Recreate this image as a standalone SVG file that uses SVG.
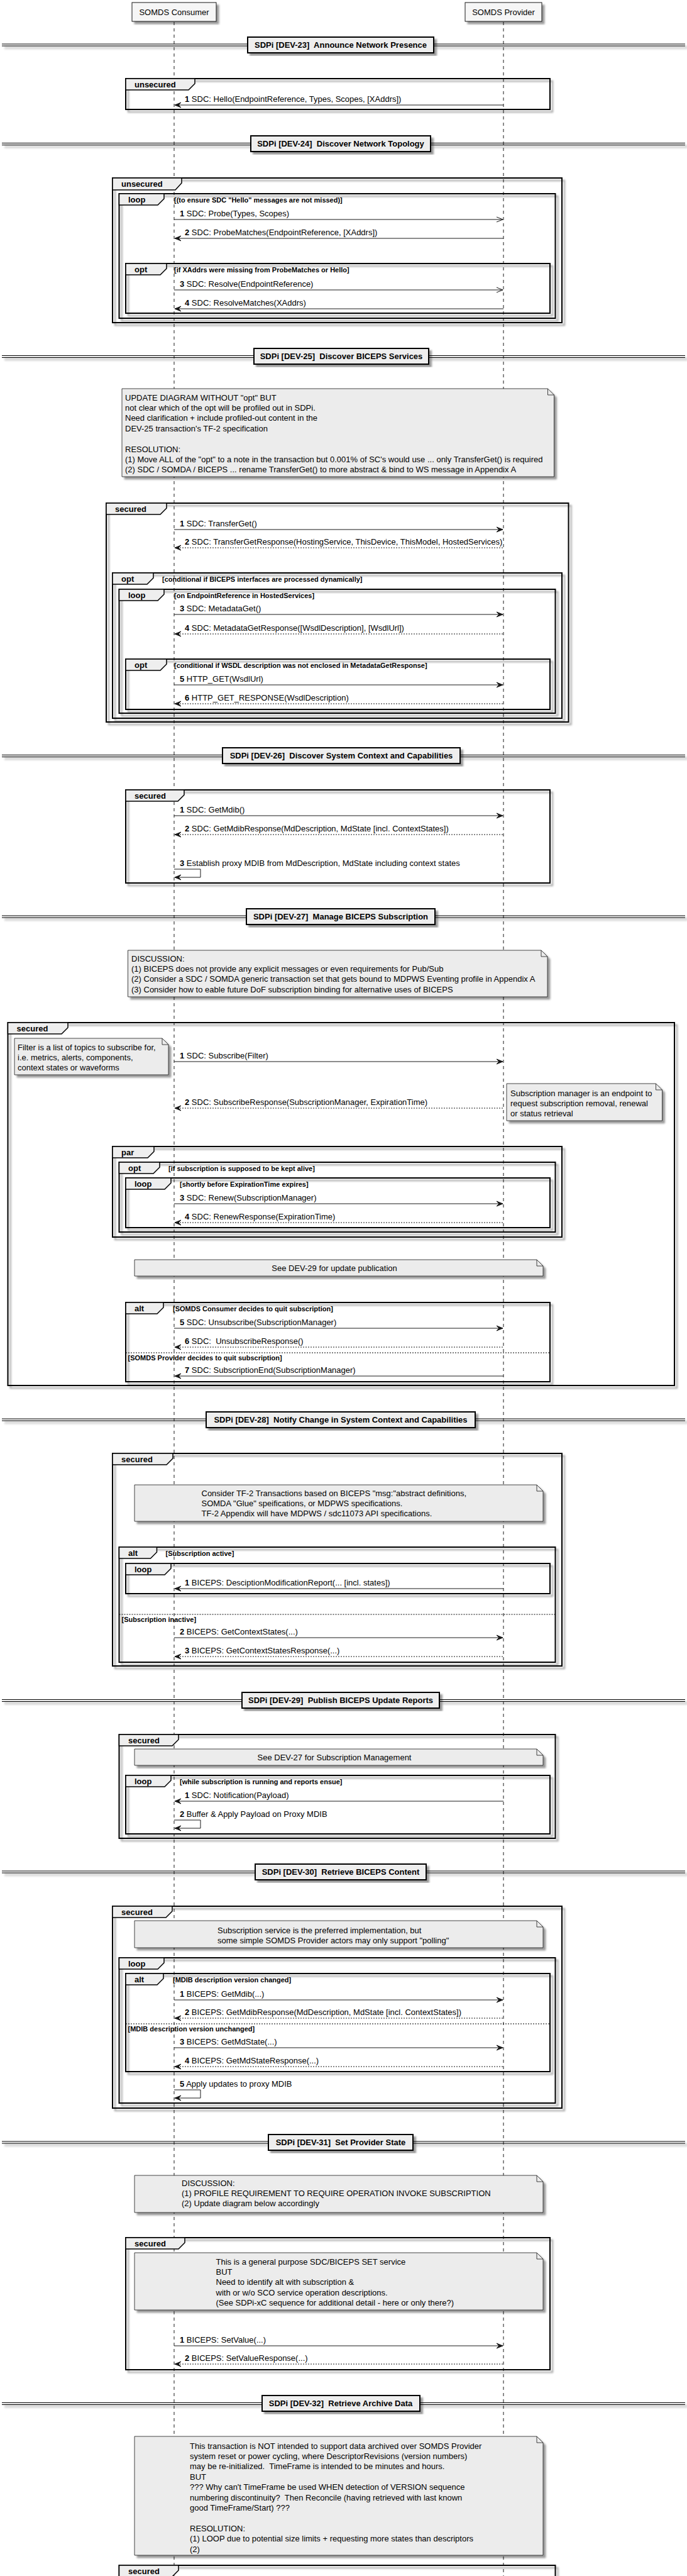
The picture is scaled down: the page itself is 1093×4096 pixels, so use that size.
<svg xmlns="http://www.w3.org/2000/svg" width="1093" height="4096" viewBox="0 0 1093 4096">
<defs>
<filter id="sh" x="-0.1" y="-0.1" width="1.3" height="1.3">
<feGaussianBlur in="SourceAlpha" stdDeviation="1.8" result="b"/>
<feColorMatrix in="b" type="matrix" values="0 0 0 0 0  0 0 0 0 0  0 0 0 0 0  0 0 0 .4 0" result="b2"/>
<feOffset dx="4" dy="4" in="b2" result="b3"/>
<feBlend in="SourceGraphic" in2="b3" mode="normal"/>
</filter>
<style>
text{font-family:"Liberation Sans",Arial,sans-serif;font-size:13px;fill:#000;white-space:pre}
.b{font-weight:bold}
.g{font-size:11px;font-weight:bold}
.c{text-anchor:middle}
.life{stroke:#181818;stroke-width:1;stroke-dasharray:5,5}
.part{fill:#F6F6F6;stroke:#181818;stroke-width:1}
.fr{fill:none;stroke:#000;stroke-width:2}
.tab{fill:#EEEEEE;stroke:#000;stroke-width:1.5}
.note{fill:#ECECEC;stroke:#181818;stroke-width:0.8}
.fold{fill:none;stroke:#181818;stroke-width:0.8}
.dv{fill:#EEEEEE;stroke:#000;stroke-width:2}
.dl{stroke:#000;stroke-width:1}
.m{stroke:#181818;stroke-width:1;fill:none}
.d{stroke-dasharray:2,2}
.ah{fill:#181818;stroke:#181818;stroke-width:1}
.sep{stroke:#000;stroke-width:1;stroke-dasharray:2,2}
</style>
</defs>
<rect width="1093" height="4096" fill="#fff"/>

<!-- lifelines -->
<g id="lifelines">
<line x1="277" y1="35" x2="277" y2="4096" class="life"/>
<line x1="801" y1="35" x2="801" y2="4096" class="life"/>
</g>

<!-- participants -->
<g id="consumer"><rect x="210" y="4" width="134" height="30" class="part" filter="url(#sh)"/><text x="277" y="24" class="c">SOMDS Consumer</text></g>
<g id="provider"><rect x="740" y="4" width="122" height="30" class="part" filter="url(#sh)"/><text x="801" y="24" class="c">SOMDS Provider</text></g>

<!-- dividers -->
<g id="dividers">
<g id="div23"><g filter="url(#sh)"><line x1="3" y1="70" x2="1090" y2="70" class="dl"/><line x1="3" y1="73" x2="1090" y2="73" class="dl"/><rect x="394" y="59" width="296" height="25" class="dv"/></g><text x="542" y="76" class="c b">SDPi [DEV-23]  Announce Network Presence</text></g>
<g id="div24"><g filter="url(#sh)"><line x1="3" y1="227.5" x2="1090" y2="227.5" class="dl"/><line x1="3" y1="230.5" x2="1090" y2="230.5" class="dl"/><rect x="399" y="216" width="286" height="25" class="dv"/></g><text x="542" y="233" class="c b">SDPi [DEV-24]  Discover Network Topology</text></g>
<g id="div25"><g filter="url(#sh)"><line x1="3" y1="565.5" x2="1090" y2="565.5" class="dl"/><line x1="3" y1="568.5" x2="1090" y2="568.5" class="dl"/><rect x="404" y="554" width="278" height="25" class="dv"/></g><text x="543" y="571" class="c b">SDPi [DEV-25]  Discover BICEPS Services</text></g>
<g id="div26"><g filter="url(#sh)"><line x1="3" y1="1200.5" x2="1090" y2="1200.5" class="dl"/><line x1="3" y1="1203.5" x2="1090" y2="1203.5" class="dl"/><rect x="354" y="1189" width="378" height="25" class="dv"/></g><text x="543" y="1206" class="c b">SDPi [DEV-26]  Discover System Context and Capabilities</text></g>
<g id="div27"><g filter="url(#sh)"><line x1="3" y1="1456" x2="1090" y2="1456" class="dl"/><line x1="3" y1="1459" x2="1090" y2="1459" class="dl"/><rect x="392" y="1445" width="300" height="25" class="dv"/></g><text x="542" y="1462" class="c b">SDPi [DEV-27]  Manage BICEPS Subscription</text></g>
<g id="div28"><g filter="url(#sh)"><line x1="3" y1="2256" x2="1090" y2="2256" class="dl"/><line x1="3" y1="2259" x2="1090" y2="2259" class="dl"/><rect x="328" y="2245" width="428" height="25" class="dv"/></g><text x="542" y="2262" class="c b">SDPi [DEV-28]  Notify Change in System Context and Capabilities</text></g>
<g id="div29"><g filter="url(#sh)"><line x1="3" y1="2702.5" x2="1090" y2="2702.5" class="dl"/><line x1="3" y1="2705.5" x2="1090" y2="2705.5" class="dl"/><rect x="385" y="2691" width="314" height="25" class="dv"/></g><text x="542" y="2708" class="c b">SDPi [DEV-29]  Publish BICEPS Update Reports</text></g>
<g id="div30"><g filter="url(#sh)"><line x1="3" y1="2975" x2="1090" y2="2975" class="dl"/><line x1="3" y1="2978" x2="1090" y2="2978" class="dl"/><rect x="406" y="2964" width="272" height="25" class="dv"/></g><text x="542" y="2981" class="c b">SDPi [DEV-30]  Retrieve BICEPS Content</text></g>
<g id="div31"><g filter="url(#sh)"><line x1="3" y1="3405" x2="1090" y2="3405" class="dl"/><line x1="3" y1="3408" x2="1090" y2="3408" class="dl"/><rect x="427" y="3394" width="230" height="25" class="dv"/></g><text x="542" y="3411" class="c b">SDPi [DEV-31]  Set Provider State</text></g>
<g id="div32"><g filter="url(#sh)"><line x1="3" y1="3820.5" x2="1090" y2="3820.5" class="dl"/><line x1="3" y1="3823.5" x2="1090" y2="3823.5" class="dl"/><rect x="417" y="3809" width="251" height="25" class="dv"/></g><text x="542" y="3826" class="c b">SDPi [DEV-32]  Retrieve Archive Data</text></g>
</g>

<!-- frames -->
<g id="frames">
<g id="f23-unsecured"><rect x="200" y="125" width="675" height="49" class="fr" filter="url(#sh)"/><path d="M200,125 H310 V133 L300,143 H200 Z" class="tab"/><text x="214" y="139" class="b">unsecured</text></g>

<g id="f24-unsecured"><rect x="179" y="283" width="715" height="230" class="fr" filter="url(#sh)"/><path d="M179,283 H289 V291 L279,302 H179 Z" class="tab"/><text x="193" y="297" class="b">unsecured</text></g>
<g id="f24-loop"><rect x="189.5" y="308" width="694" height="198" class="fr" filter="url(#sh)"/><path d="M189.5,308 H261 V316 L251,326 H189.5 Z" class="tab"/><text x="204" y="322" class="b">loop</text><text x="277" y="322" class="g">[(to ensure SDC "Hello" messages are not missed)]</text></g>
<g id="f24-opt"><rect x="200" y="419" width="675" height="79" class="fr" filter="url(#sh)"/><path d="M200,419 H265 V427 L255,437 H200 Z" class="tab"/><text x="214" y="433" class="b">opt</text><text x="277" y="433" class="g">[if XAddrs were missing from ProbeMatches or Hello]</text></g>

<g id="f25-secured"><rect x="169" y="800" width="735.5" height="348" class="fr" filter="url(#sh)"/><path d="M169,800 H265 V808 L255,818 H169 Z" class="tab"/><text x="183" y="814" class="b">secured</text></g>
<g id="f25-opt"><rect x="179" y="911" width="715" height="231" class="fr" filter="url(#sh)"/><path d="M179,911 H244 V919 L234,929 H179 Z" class="tab"/><text x="193" y="925" class="b">opt</text><text x="258" y="925" class="g">[conditional if BICEPS interfaces are processed dynamically]</text></g>
<g id="f25-loop"><rect x="189.5" y="937" width="694" height="197" class="fr" filter="url(#sh)"/><path d="M189.5,937 H261 V945 L251,955 H189.5 Z" class="tab"/><text x="204" y="951" class="b">loop</text><text x="277" y="951" class="g">[on EndpointReference in HostedServices]</text></g>
<g id="f25-opt2"><rect x="200" y="1048" width="675" height="80" class="fr" filter="url(#sh)"/><path d="M200,1048 H265 V1056 L255,1066 H200 Z" class="tab"/><text x="214" y="1062" class="b">opt</text><text x="277" y="1062" class="g">[conditional if WSDL description was not enclosed in MetadataGetResponse]</text></g>

<g id="f26-secured"><rect x="200" y="1256" width="675" height="148" class="fr" filter="url(#sh)"/><path d="M200,1256 H293 V1264 L283,1274 H200 Z" class="tab"/><text x="214" y="1270" class="b">secured</text></g>

<g id="f27-secured"><rect x="12.5" y="1626" width="1060.5" height="577" class="fr" filter="url(#sh)"/><path d="M12.5,1626 H108 V1634 L98,1644 H12.5 Z" class="tab"/><text x="26.5" y="1640" class="b">secured</text></g>
<g id="f27-par"><rect x="179" y="1823" width="715" height="144" class="fr" filter="url(#sh)"/><path d="M179,1823 H245 V1831 L235,1841 H179 Z" class="tab"/><text x="193" y="1837" class="b">par</text></g>
<g id="f27-opt"><rect x="189.5" y="1848" width="694" height="111" class="fr" filter="url(#sh)"/><path d="M189.5,1848 H254 V1856 L244,1866 H189.5 Z" class="tab"/><text x="204" y="1862" class="b">opt</text><text x="268" y="1862" class="g">[if subscription is supposed to be kept alive]</text></g>
<g id="f27-loop"><rect x="200" y="1873" width="675" height="79" class="fr" filter="url(#sh)"/><path d="M200,1873 H272 V1881 L262,1891 H200 Z" class="tab"/><text x="214" y="1887" class="b">loop</text><text x="286" y="1887" class="g">[shortly before ExpirationTime expires]</text></g>
<g id="f27-alt"><rect x="200" y="2071" width="675" height="126" class="fr" filter="url(#sh)"/><path d="M200,2071 H260 V2079 L250,2089 H200 Z" class="tab"/><text x="214" y="2085" class="b">alt</text><text x="275" y="2085" class="g">[SOMDS Consumer decides to quit subscription]</text><line x1="200" y1="2151" x2="875" y2="2151" class="sep"/><text x="203.5" y="2163" class="g">[SOMDS Provider decides to quit subscription]</text></g>

<g id="f28-secured"><rect x="179" y="2311" width="715" height="338" class="fr" filter="url(#sh)"/><path d="M179,2311 H275 V2319 L265,2329 H179 Z" class="tab"/><text x="193" y="2325" class="b">secured</text></g>
<g id="f28-alt"><rect x="189.5" y="2460" width="694" height="183" class="fr" filter="url(#sh)"/><path d="M189.5,2460 H249.5 V2468 L239.5,2478 H189.5 Z" class="tab"/><text x="204" y="2474" class="b">alt</text><text x="263.5" y="2474" class="g">[Subscription active]</text><line x1="189.5" y1="2567" x2="883.5" y2="2567" class="sep"/><text x="193.5" y="2579" class="g">[Subscription inactive]</text></g>
<g id="f28-loop"><rect x="200" y="2486" width="675" height="48" class="fr" filter="url(#sh)"/><path d="M200,2486 H272 V2494 L262,2504 H200 Z" class="tab"/><text x="214" y="2500" class="b">loop</text></g>

<g id="f29-secured"><rect x="189.5" y="2758" width="694" height="165" class="fr" filter="url(#sh)"/><path d="M189.5,2758 H284 V2766 L274,2776 H189.5 Z" class="tab"/><text x="204" y="2772" class="b">secured</text></g>
<g id="f29-loop"><rect x="200" y="2823" width="675" height="93" class="fr" filter="url(#sh)"/><path d="M200,2823 H272 V2831 L262,2841 H200 Z" class="tab"/><text x="214" y="2837" class="b">loop</text><text x="286" y="2837" class="g">[while subscription is running and reports ensue]</text></g>

<g id="f30-secured"><rect x="179" y="3031" width="715" height="321" class="fr" filter="url(#sh)"/><path d="M179,3031 H274 V3039 L264,3049 H179 Z" class="tab"/><text x="193" y="3045" class="b">secured</text></g>
<g id="f30-loop"><rect x="189.5" y="3113" width="694" height="231" class="fr" filter="url(#sh)"/><path d="M189.5,3113 H261 V3121 L251,3131 H189.5 Z" class="tab"/><text x="204" y="3127" class="b">loop</text></g>
<g id="f30-alt"><rect x="200" y="3138" width="675" height="156" class="fr" filter="url(#sh)"/><path d="M200,3138 H260 V3146 L250,3156 H200 Z" class="tab"/><text x="214" y="3152" class="b">alt</text><text x="275" y="3152" class="g">[MDIB description version changed]</text><line x1="200" y1="3218" x2="875" y2="3218" class="sep"/><text x="203.5" y="3230" class="g">[MDIB description version unchanged]</text></g>

<g id="f31-secured"><rect x="200" y="3558" width="675" height="210" class="fr" filter="url(#sh)"/><path d="M200,3558 H294 V3566 L284,3576 H200 Z" class="tab"/><text x="214" y="3572" class="b">secured</text></g>

<g id="f32-secured"><rect x="189.5" y="4079" width="694" height="60" class="fr" filter="url(#sh)"/><path d="M189.5,4079 H284 V4087 L274,4097 H189.5 Z" class="tab"/><text x="204" y="4093" class="b">secured</text></g>
</g>

<!-- notes -->
<g id="notes">
<g id="n25"><path d="M194,618 H871.5 L881.5,628 V758 H194 Z" class="note" filter="url(#sh)"/><path d="M871.5,618 V628 H881.5" class="fold"/>
<text x="199" y="636.5">UPDATE DIAGRAM WITHOUT "opt" BUT</text>
<text x="199" y="652.9">not clear which of the opt will be profiled out in SDPi.</text>
<text x="199" y="669.3">Need clarification + include profiled-out content in the</text>
<text x="199" y="685.7">DEV-25 transaction's TF-2 specification</text>
<text x="199" y="718.5">RESOLUTION:</text>
<text x="199" y="734.9">(1) Move ALL of the "opt" to a note in the transaction but 0.001% of SC's would use ... only TransferGet() is required</text>
<text x="199" y="751.3">(2) SDC / SOMDA / BICEPS ... rename TransferGet() to more abstract &amp; bind to WS message in Appendix A</text>
</g>
<g id="n27"><path d="M203.5,1511 H861 L871,1521 V1585 H203.5 Z" class="note" filter="url(#sh)"/><path d="M861,1511 V1521 H871" class="fold"/>
<text x="209" y="1528.5">DISCUSSION:</text>
<text x="209" y="1544.9">(1) BICEPS does not provide any explicit messages or even requirements for Pub/Sub</text>
<text x="209" y="1561.3">(2) Consider a SDC / SOMDA generic transaction set that gets bound to MDPWS Eventing profile in Appendix A</text>
<text x="209" y="1577.7">(3) Consider how to eable future DoF subscription binding for alternative uses of BICEPS</text>
</g>
<g id="n27-filter"><path d="M23,1651 H258 L268,1661 V1709 H23 Z" class="note" filter="url(#sh)"/><path d="M258,1651 V1661 H268" class="fold"/>
<text x="28" y="1669.5">Filter is a list of topics to subscribe for,</text>
<text x="28" y="1685.9">i.e. metrics, alerts, components,</text>
<text x="28" y="1702.3">context states or waveforms</text>
</g>
<g id="n27-manager"><path d="M806,1723 H1043.5 L1053.5,1733 V1782 H806 Z" class="note" filter="url(#sh)"/><path d="M1043.5,1723 V1733 H1053.5" class="fold"/>
<text x="812" y="1742.5">Subscription manager is an endpoint to</text>
<text x="812" y="1758.9">request subscription removal, renewal</text>
<text x="812" y="1775.3">or status retrieval</text>
</g>
<g id="n27-dev29"><path d="M214,2003 H854 L864,2013 V2029 H214 Z" class="note" filter="url(#sh)"/><path d="M854,2003 V2013 H864" class="fold"/>
<text x="532" y="2021" class="c">See DEV-29 for update publication</text>
</g>
<g id="n28"><path d="M214,2361 H854 L864,2371 V2419 H214 Z" class="note" filter="url(#sh)"/><path d="M854,2361 V2371 H864" class="fold"/>
<text x="320.5" y="2378.5">Consider TF-2 Transactions based on BICEPS "msg:"abstract definitions,</text>
<text x="320.5" y="2394.9">SOMDA "Glue" speifications, or MDPWS specifications.</text>
<text x="320.5" y="2411.3">TF-2 Appendix will have MDPWS / sdc11073 API specifications.</text>
</g>
<g id="n29"><path d="M214,2781 H854 L864,2791 V2807 H214 Z" class="note" filter="url(#sh)"/><path d="M854,2781 V2791 H864" class="fold"/>
<text x="532" y="2799" class="c">See DEV-27 for Subscription Management</text>
</g>
<g id="n30"><path d="M214,3054 H854 L864,3064 V3097 H214 Z" class="note" filter="url(#sh)"/><path d="M854,3054 V3064 H864" class="fold"/>
<text x="346" y="3073.5">Subscription service is the preferred implementation, but</text>
<text x="346" y="3089.9">some simple SOMDS Provider actors may only support "polling"</text>
</g>
<g id="n31"><path d="M214,3459 H854 L864,3469 V3518 H214 Z" class="note" filter="url(#sh)"/><path d="M854,3459 V3469 H864" class="fold"/>
<text x="289" y="3475.5">DISCUSSION:</text>
<text x="289" y="3491.9">(1) PROFILE REQUIREMENT TO REQUIRE OPERATION INVOKE SUBSCRIPTION</text>
<text x="289" y="3508.3">(2) Update diagram below accordingly</text>
</g>
<g id="n31-set"><path d="M214,3582 H854 L864,3592 V3673 H214 Z" class="note" filter="url(#sh)"/><path d="M854,3582 V3592 H864" class="fold"/>
<text x="343.5" y="3600.5">This is a general purpose SDC/BICEPS SET service</text>
<text x="343.5" y="3616.9">BUT</text>
<text x="343.5" y="3633.3">Need to identify alt with subscription &amp;</text>
<text x="343.5" y="3649.7">with or w/o SCO service operation descriptions.</text>
<text x="343.5" y="3666.1">(See SDPi-xC sequence for additional detail - here or only there?)</text>
</g>
<g id="n32"><path d="M214,3874 H854 L864,3884 V4063 H214 Z" class="note" filter="url(#sh)"/><path d="M854,3874 V3884 H864" class="fold"/>
<text x="302" y="3893.5">This transaction is NOT intended to support data archived over SOMDS Provider</text>
<text x="302" y="3909.9">system reset or power cycling, where DescriptorRevisions (version numbers)</text>
<text x="302" y="3926.3">may be re-initialized.  TimeFrame is intended to be minutes and hours.</text>
<text x="302" y="3942.7">BUT</text>
<text x="302" y="3959.1">??? Why can't TimeFrame be used WHEN detection of VERSION sequence</text>
<text x="302" y="3975.5">numbering discontinuity?  Then Reconcile (having retrieved with last known</text>
<text x="302" y="3991.9">good TimeFrame/Start) ???</text>
<text x="302" y="4024.7">RESOLUTION:</text>
<text x="302" y="4041.1">(1) LOOP due to potential size limits + requesting more states than descriptors</text>
<text x="302" y="4057.5">(2)</text>
</g>
</g>

<!-- connectors -->
<g id="connectors">
<!-- DEV-23 -->
<g><line x1="278" y1="167" x2="801" y2="167" class="m"/><polygon points="278,167 288,163 284,167 288,171" class="ah"/><text x="294" y="162"><tspan class="b">1</tspan> SDC: Hello(EndpointReference, Types, Scopes, [XAddrs])</text></g>
<!-- DEV-24 -->
<g><line x1="277" y1="349" x2="800" y2="349" class="m"/><polyline points="790,345 800,349 790,353" class="m"/><text x="286" y="344"><tspan class="b">1</tspan> SDC: Probe(Types, Scopes)</text></g>
<g><line x1="278" y1="379" x2="801" y2="379" class="m"/><polygon points="278,379 288,375 284,379 288,383" class="ah"/><text x="294" y="374"><tspan class="b">2</tspan> SDC: ProbeMatches(EndpointReference, [XAddrs])</text></g>
<g><line x1="277" y1="461" x2="800" y2="461" class="m"/><polyline points="790,457 800,461 790,465" class="m"/><text x="286" y="456"><tspan class="b">3</tspan> SDC: Resolve(EndpointReference)</text></g>
<g><line x1="278" y1="491" x2="801" y2="491" class="m"/><polygon points="278,491 288,487 284,491 288,495" class="ah"/><text x="294" y="486"><tspan class="b">4</tspan> SDC: ResolveMatches(XAddrs)</text></g>
<!-- DEV-25 -->
<g><line x1="277" y1="842" x2="800" y2="842" class="m"/><polygon points="790,838 800,842 790,846 794,842" class="ah"/><text x="286" y="837"><tspan class="b">1</tspan> SDC: TransferGet()</text></g>
<g><line x1="278" y1="871" x2="801" y2="871" class="m d"/><polygon points="278,871 288,867 284,871 288,875" class="ah"/><text x="294" y="866"><tspan class="b">2</tspan> SDC: TransferGetResponse(HostingService, ThisDevice, ThisModel, HostedServices)</text></g>
<g><line x1="277" y1="977" x2="800" y2="977" class="m"/><polygon points="790,973 800,977 790,981 794,977" class="ah"/><text x="286" y="972"><tspan class="b">3</tspan> SDC: MetadataGet()</text></g>
<g><line x1="278" y1="1008" x2="801" y2="1008" class="m d"/><polygon points="278,1008 288,1004 284,1008 288,1012" class="ah"/><text x="294" y="1003"><tspan class="b">4</tspan> SDC: MetadataGetResponse([WsdlDescription], [WsdlUrl])</text></g>
<g><line x1="277" y1="1089" x2="800" y2="1089" class="m"/><polygon points="790,1085 800,1089 790,1093 794,1089" class="ah"/><text x="286" y="1084"><tspan class="b">5</tspan> HTTP_GET(WsdlUrl)</text></g>
<g><line x1="278" y1="1119" x2="801" y2="1119" class="m d"/><polygon points="278,1119 288,1115 284,1119 288,1123" class="ah"/><text x="294" y="1114"><tspan class="b">6</tspan> HTTP_GET_RESPONSE(WsdlDescription)</text></g>
<!-- DEV-26 -->
<g><line x1="277" y1="1297" x2="800" y2="1297" class="m"/><polygon points="790,1293 800,1297 790,1301 794,1297" class="ah"/><text x="286" y="1292"><tspan class="b">1</tspan> SDC: GetMdib()</text></g>
<g><line x1="278" y1="1327" x2="801" y2="1327" class="m d"/><polygon points="278,1327 288,1323 284,1327 288,1331" class="ah"/><text x="294" y="1322"><tspan class="b">2</tspan> SDC: GetMdibResponse(MdDescription, MdState [incl. ContextStates])</text></g>
<g><polyline points="277,1382 319,1382 319,1395 278,1395" class="m"/><polygon points="278,1395 288,1391 284,1395 288,1399" class="ah"/><text x="286" y="1377"><tspan class="b">3</tspan> Establish proxy MDIB from MdDescription, MdState including context states</text></g>
<!-- DEV-27 -->
<g><line x1="277" y1="1688" x2="800" y2="1688" class="m"/><polygon points="790,1684 800,1688 790,1692 794,1688" class="ah"/><text x="286" y="1683"><tspan class="b">1</tspan> SDC: Subscribe(Filter)</text></g>
<g><line x1="278" y1="1762" x2="801" y2="1762" class="m d"/><polygon points="278,1762 288,1758 284,1762 288,1766" class="ah"/><text x="294" y="1757"><tspan class="b">2</tspan> SDC: SubscribeResponse(SubscriptionManager, ExpirationTime)</text></g>
<g><line x1="277" y1="1914" x2="800" y2="1914" class="m"/><polygon points="790,1910 800,1914 790,1918 794,1914" class="ah"/><text x="286" y="1909"><tspan class="b">3</tspan> SDC: Renew(SubscriptionManager)</text></g>
<g><line x1="278" y1="1944" x2="801" y2="1944" class="m d"/><polygon points="278,1944 288,1940 284,1944 288,1948" class="ah"/><text x="294" y="1939"><tspan class="b">4</tspan> SDC: RenewResponse(ExpirationTime)</text></g>
<g><line x1="277" y1="2112" x2="800" y2="2112" class="m"/><polygon points="790,2108 800,2112 790,2116 794,2112" class="ah"/><text x="286" y="2107"><tspan class="b">5</tspan> SDC: Unsubscribe(SubscriptionManager)</text></g>
<g><line x1="278" y1="2142" x2="801" y2="2142" class="m d"/><polygon points="278,2142 288,2138 284,2142 288,2146" class="ah"/><text x="294" y="2137"><tspan class="b">6</tspan> SDC:  UnsubscribeResponse()</text></g>
<g><line x1="278" y1="2188" x2="801" y2="2188" class="m"/><polygon points="278,2188 288,2184 284,2188 288,2192" class="ah"/><text x="294" y="2183"><tspan class="b">7</tspan> SDC: SubscriptionEnd(SubscriptionManager)</text></g>
<!-- DEV-28 -->
<g><line x1="278" y1="2526" x2="801" y2="2526" class="m"/><polygon points="278,2526 288,2522 284,2526 288,2530" class="ah"/><text x="294" y="2521"><tspan class="b">1</tspan> BICEPS: DesciptionModificationReport(... [incl. states])</text></g>
<g><line x1="277" y1="2604" x2="800" y2="2604" class="m"/><polygon points="790,2600 800,2604 790,2608 794,2604" class="ah"/><text x="286" y="2599"><tspan class="b">2</tspan> BICEPS: GetContextStates(...)</text></g>
<g><line x1="278" y1="2634" x2="801" y2="2634" class="m d"/><polygon points="278,2634 288,2630 284,2634 288,2638" class="ah"/><text x="294" y="2629"><tspan class="b">3</tspan> BICEPS: GetContextStatesResponse(...)</text></g>
<!-- DEV-29 -->
<g><line x1="278" y1="2864" x2="801" y2="2864" class="m"/><polygon points="278,2864 288,2860 284,2864 288,2868" class="ah"/><text x="294" y="2859"><tspan class="b">1</tspan> SDC: Notification(Payload)</text></g>
<g><polyline points="277,2894 319,2894 319,2907 278,2907" class="m"/><polygon points="278,2907 288,2903 284,2907 288,2911" class="ah"/><text x="286" y="2889"><tspan class="b">2</tspan> Buffer &amp; Apply Payload on Proxy MDIB</text></g>
<!-- DEV-30 -->
<g><line x1="277" y1="3180" x2="800" y2="3180" class="m"/><polygon points="790,3176 800,3180 790,3184 794,3180" class="ah"/><text x="286" y="3175"><tspan class="b">1</tspan> BICEPS: GetMdib(...)</text></g>
<g><line x1="278" y1="3209" x2="801" y2="3209" class="m d"/><polygon points="278,3209 288,3205 284,3209 288,3213" class="ah"/><text x="294" y="3204"><tspan class="b">2</tspan> BICEPS: GetMdibResponse(MdDescription, MdState [incl. ContextStates])</text></g>
<g><line x1="277" y1="3256" x2="800" y2="3256" class="m"/><polygon points="790,3252 800,3256 790,3260 794,3256" class="ah"/><text x="286" y="3251"><tspan class="b">3</tspan> BICEPS: GetMdState(...)</text></g>
<g><line x1="278" y1="3286" x2="801" y2="3286" class="m d"/><polygon points="278,3286 288,3282 284,3286 288,3290" class="ah"/><text x="294" y="3281"><tspan class="b">4</tspan> BICEPS: GetMdStateResponse(...)</text></g>
<g><polyline points="277,3323 319,3323 319,3336 278,3336" class="m"/><polygon points="278,3336 288,3332 284,3336 288,3340" class="ah"/><text x="286" y="3318"><tspan class="b">5</tspan> Apply updates to proxy MDIB</text></g>
<!-- DEV-31 -->
<g><line x1="277" y1="3730" x2="800" y2="3730" class="m"/><polygon points="790,3726 800,3730 790,3734 794,3730" class="ah"/><text x="286" y="3725"><tspan class="b">1</tspan> BICEPS: SetValue(...)</text></g>
<g><line x1="278" y1="3759" x2="801" y2="3759" class="m d"/><polygon points="278,3759 288,3755 284,3759 288,3763" class="ah"/><text x="294" y="3754"><tspan class="b">2</tspan> BICEPS: SetValueResponse(...)</text></g>
</g>
</svg>
